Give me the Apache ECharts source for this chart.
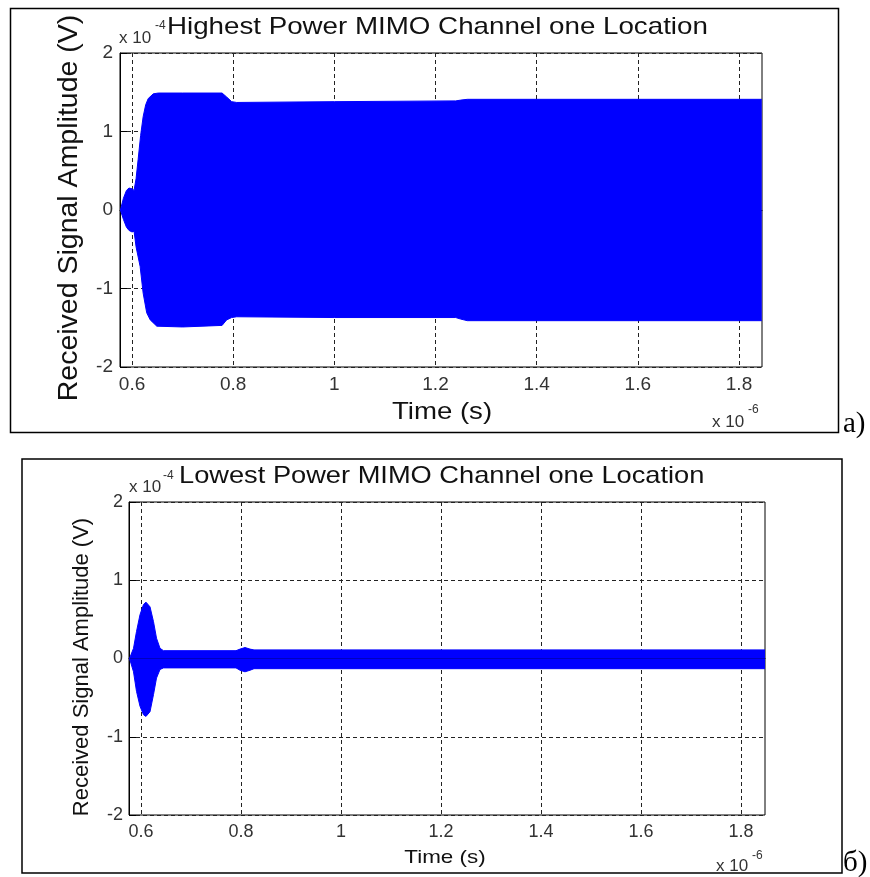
<!DOCTYPE html>
<html>
<head>
<meta charset="utf-8">
<script src="https://cdn.jsdelivr.net/npm/echarts@6/dist/echarts.min.js"></script>
<style>
  html, body { margin: 0; padding: 0; background: #fff; }
  #chart { width: 870px; height: 877px; }
</style>
</head>
<body>
<div id="chart"></div>
<script>
// Time in units of 1e-6 s, amplitude in units of 1e-4 V.
// Signal envelopes (upper / lower edge of the received waveform).

// Highest power channel
const highUpperTime = [0.577, 0.583, 0.589, 0.594, 0.600, 0.604, 0.608, 0.612, 0.617, 0.622, 0.627, 0.632, 0.642, 0.652, 0.700, 0.778, 0.787, 0.797, 0.807, 1.000, 1.240, 1.250, 1.263, 1.845];
const highUpperAmp  = [0.00, 0.15, 0.25, 0.28, 0.27, 0.25, 0.40, 0.64, 0.95, 1.19, 1.34, 1.42, 1.48, 1.49, 1.49, 1.49, 1.44, 1.38, 1.37, 1.38, 1.39, 1.40, 1.41, 1.41];
const highLowerTime = [0.577, 0.583, 0.589, 0.594, 0.600, 0.604, 0.608, 0.616, 0.622, 0.629, 0.636, 0.649, 0.700, 0.778, 0.787, 0.797, 0.807, 1.000, 1.240, 1.250, 1.263, 1.845];
const highLowerAmp  = [0.00, -0.12, -0.22, -0.26, -0.28, -0.27, -0.47, -0.72, -1.06, -1.31, -1.40, -1.48, -1.49, -1.47, -1.40, -1.37, -1.36, -1.37, -1.37, -1.39, -1.41, -1.41];

// Lowest power channel
const lowUpperTime = [0.577, 0.585, 0.591, 0.598, 0.605, 0.610, 0.618, 0.625, 0.631, 0.638, 0.645, 0.790, 0.798, 0.808, 0.818, 0.826, 1.848];
const lowUpperAmp  = [0.00, 0.13, 0.345, 0.56, 0.69, 0.72, 0.66, 0.47, 0.26, 0.13, 0.10, 0.10, 0.12, 0.14, 0.12, 0.11, 0.11];
const lowLowerTime = [0.577, 0.585, 0.591, 0.598, 0.605, 0.610, 0.618, 0.625, 0.631, 0.638, 0.645, 0.790, 0.798, 0.808, 0.818, 0.826, 1.848];
const lowLowerAmp  = [0.00, -0.17, -0.42, -0.61, -0.72, -0.74, -0.68, -0.46, -0.25, -0.14, -0.12, -0.12, -0.15, -0.17, -0.15, -0.13, -0.13];

// Axis ticks
const timeTicks = [0.6, 0.8, 1.0, 1.2, 1.4, 1.6, 1.8];
const ampTicks = [-2, -1, 0, 1, 2];

const FONT = "'Liberation Sans', Arial, Helvetica, sans-serif";
const SERIF = "'Liberation Serif', 'Times New Roman', serif";
const BLUE = '#0000ff';

const pairs = (xs, ys) => xs.map((x, i) => [x, ys[i]]);

function xAxisCfg(gridIndex, min, max, fs, margin) {
  return {
    type: 'value', gridIndex, min, max,
    axisLine: { show: true, lineStyle: { color: '#000', width: 1 } },
    axisTick: { show: true, inside: true, length: 7, customValues: timeTicks, lineStyle: { color: '#000' } },
    axisLabel: {
      customValues: timeTicks, margin, color: '#333', fontSize: fs, fontFamily: FONT,
      formatter: v => String(+v.toFixed(1))
    },
    splitLine: { show: true, lineStyle: { color: '#222', type: [4, 3], width: 1 } }
  };
}
function yAxisCfg(gridIndex, fs, margin) {
  return {
    type: 'value', gridIndex, min: ampTicks[0], max: ampTicks[ampTicks.length - 1], interval: 1,
    axisLine: { show: true, lineStyle: { color: '#000', width: 1 } },
    axisTick: { show: true, inside: true, length: 7, lineStyle: { color: '#000' } },
    axisLabel: { margin, color: '#333', fontSize: fs, fontFamily: FONT },
    splitLine: { show: true, lineStyle: { color: '#222', type: [4, 3], width: 1 } }
  };
}
function envelope(name, xi, yi, data) {
  return {
    name, type: 'line', xAxisIndex: xi, yAxisIndex: yi, data,
    symbol: 'none', animation: false,
    lineStyle: { color: BLUE, width: 1 },
    areaStyle: { color: BLUE, opacity: 1 }
  };
}
function txt(x, y, text, fs, opts = {}) {
  return {
    type: 'text', x, y, rotation: opts.rot || 0, scaleX: opts.sx || 1, z: 10,
    style: {
      text, x: 0, y: 0, fill: opts.color || '#111',
      font: `${fs}px ${opts.family || FONT}`,
      align: opts.align || 'left', verticalAlign: 'middle'
    }
  };
}

const chart = echarts.init(document.getElementById('chart'), null, { renderer: 'canvas' });
chart.setOption({
  backgroundColor: '#fff',
  animation: false,
  grid: [
    { left: 120, top: 53, width: 642, height: 314, show: true, borderColor: '#000', borderWidth: 1 },
    { left: 129, top: 502, width: 636, height: 313, show: true, borderColor: '#000', borderWidth: 1 }
  ],
  xAxis: [ xAxisCfg(0, 0.5762, 1.8455, 19, 8), xAxisCfg(1, 0.576, 1.848, 18, 8) ],
  yAxis: [ yAxisCfg(0, 19, 7), yAxisCfg(1, 18, 6) ],
  series: [
    envelope('high-upper', 0, 0, pairs(highUpperTime, highUpperAmp)),
    envelope('high-lower', 0, 0, pairs(highLowerTime, highLowerAmp)),
    envelope('low-upper', 1, 1, pairs(lowUpperTime, lowUpperAmp)),
    envelope('low-lower', 1, 1, pairs(lowLowerTime, lowLowerAmp))
  ],
  graphic: [
    // panel frames
    { type: 'rect', shape: { x: 10.5, y: 8.5, width: 828, height: 424 }, style: { fill: 'none', stroke: '#000', lineWidth: 1.5 } },
    { type: 'rect', shape: { x: 22, y: 459, width: 820, height: 414 }, style: { fill: 'none', stroke: '#000', lineWidth: 1.5 } },

    // panel a texts
    txt(167, 27, 'Highest Power MIMO Channel one Location', 24, { sx: 1.155 }),
    txt(119, 38, 'x 10', 17, { color: '#333' }),
    txt(155, 26, '-4', 12, { color: '#333' }),
    txt(69, 208, 'Received Signal Amplitude (V)', 28.5, { rot: Math.PI / 2, align: 'center' }),
    txt(442, 412, 'Time (s)', 24, { sx: 1.15, align: 'center' }),
    txt(712, 422, 'x 10', 17, { color: '#333' }),
    txt(748, 410, '-6', 12, { color: '#333' }),
    txt(843, 424, 'a)', 29, { family: SERIF, color: '#000' }),

    // panel б texts
    txt(179, 476, 'Lowest Power MIMO Channel one Location', 24, { sx: 1.135 }),
    txt(129, 487, 'x 10', 17, { color: '#333' }),
    txt(163, 476, '-4', 12, { color: '#333' }),
    txt(82, 667, 'Received Signal Amplitude (V)', 22, { rot: Math.PI / 2, align: 'center' }),
    txt(445, 858, 'Time (s)', 19, { sx: 1.18, align: 'center' }),
    txt(716, 866, 'x 10', 17, { color: '#333' }),
    txt(752, 856, '-6', 12, { color: '#333' }),
    txt(843, 863, 'б)', 29, { family: SERIF, color: '#000' })
  ]
});
</script>
</body>
</html>
